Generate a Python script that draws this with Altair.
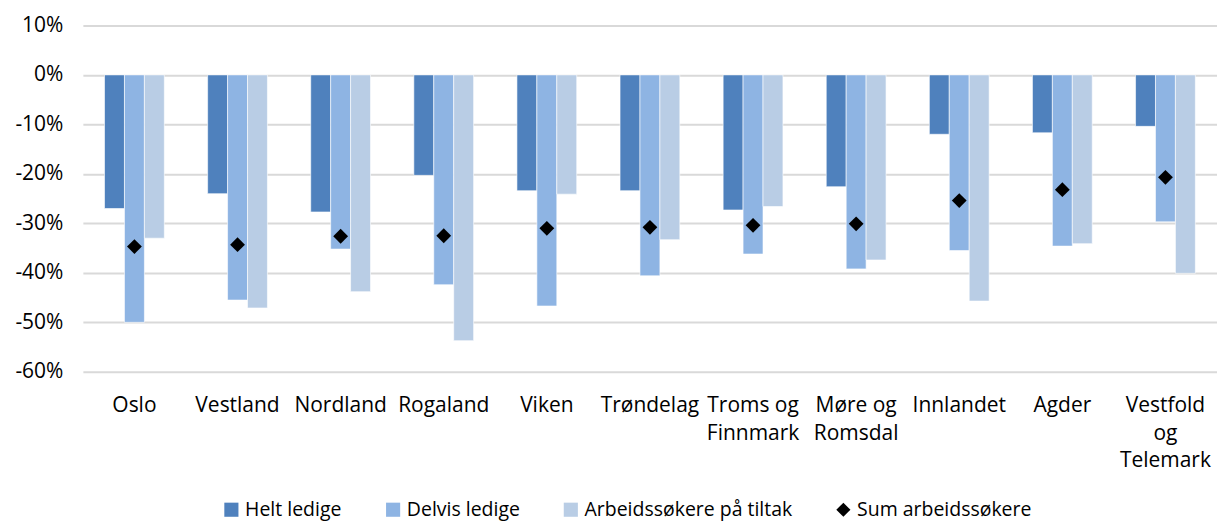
import altair as alt
import pandas as pd

regions = ["Oslo", "Vestland", "Nordland", "Rogaland", "Viken", "Trøndelag",
           "Troms og|Finnmark", "Møre og|Romsdal", "Innlandet", "Agder", "Vestfold|og|Telemark"]
helt_ledige = [-27.0, -24.0, -27.7, -20.3, -23.4, -23.4, -27.3, -22.6, -12.0, -11.7, -10.4]
delvis_ledige = [-50.0, -45.5, -35.2, -42.4, -46.7, -40.6, -36.2, -39.2, -35.5, -34.6, -29.7]
tiltak = [-33.0, -47.1, -43.8, -53.7, -24.1, -33.3, -26.6, -37.4, -45.7, -34.1, -40.1]
sum_arbeidssokere = [-34.7, -34.3, -32.6, -32.5, -31.0, -30.8, -30.4, -30.1, -25.4, -23.2, -20.7]

bar_series = ["Helt ledige", "Delvis ledige", "Arbeidssøkere på tiltak"]
all_series = bar_series + ["Sum arbeidssøkere"]
colors = ["#4F81BD", "#8EB4E3", "#B9CDE5", "#000000"]
shapes = ["square", "square", "square", "diamond"]
y_ticks = [-60, -50, -40, -30, -20, -10, 0, 10]

rows = []
for i, r in enumerate(regions):
    for s, vals in zip(bar_series, [helt_ledige, delvis_ledige, tiltak]):
        rows.append({"region": r, "series": s, "value": vals[i]})
bar_df = pd.DataFrame(rows)
sum_df = pd.DataFrame({"region": regions, "series": "Sum arbeidssøkere", "value": sum_arbeidssokere})

FONT = "Open Sans"
FS = 21
LEG_FS = 19.5

x_enc = alt.X("region:N", sort=regions,
              scale=alt.Scale(paddingInner=0.42, paddingOuter=0.21),
              axis=alt.Axis(title=None, labelExpr="split(datum.label, '|')", labelAngle=0,
                            labelFontSize=FS, labelColor="#000000", labelPadding=23,
                            labelLineHeight=27.5, domain=False, ticks=False, grid=False))
y_enc = alt.Y("value:Q", scale=alt.Scale(domain=[-60, 10], nice=False),
              axis=alt.Axis(title=None, values=y_ticks, labelExpr="datum.value + '%'",
                            labelFontSize=FS, labelColor="#000000", labelPadding=20,
                            domain=False, ticks=False, grid=True, gridColor="#D9D9D9",
                            gridWidth=2))

legend = alt.Legend(title=None, orient="none", legendX=139, legendY=475, direction="horizontal",
                    labelFontSize=LEG_FS, labelColor="#000000", symbolSize=200, labelLimit=500,
                    symbolStrokeWidth=0, columnPadding=41, labelOffset=4)

color_scale = alt.Scale(domain=all_series, range=colors)

bars = alt.Chart(bar_df).mark_bar(stroke="white", strokeWidth=0.6).encode(
    x=x_enc,
    xOffset=alt.XOffset("series:N", sort=bar_series, scale=alt.Scale(paddingInner=0, paddingOuter=0)),
    y=y_enc,
    color=alt.Color("series:N", scale=color_scale, sort=all_series, legend=legend),
)

points = alt.Chart(sum_df).mark_point(filled=True, size=220, opacity=1).encode(
    x=alt.X("region:N", sort=regions),
    y=alt.Y("value:Q"),
    color=alt.Color("series:N", scale=color_scale, sort=all_series, legend=legend),
    shape=alt.Shape("series:N", scale=alt.Scale(domain=all_series, range=shapes), sort=all_series, legend=legend),
)

chart = alt.layer(bars, points).properties(
    width=1136, height=347,
    autosize=alt.AutoSizeParams(type="none"),
    padding={"left": 75, "top": 17, "right": 0, "bottom": 151},
).configure(font=FONT).configure_view(stroke=None)

chart.save("out.html", embed_options={"renderer": "svg", "actions": False})
